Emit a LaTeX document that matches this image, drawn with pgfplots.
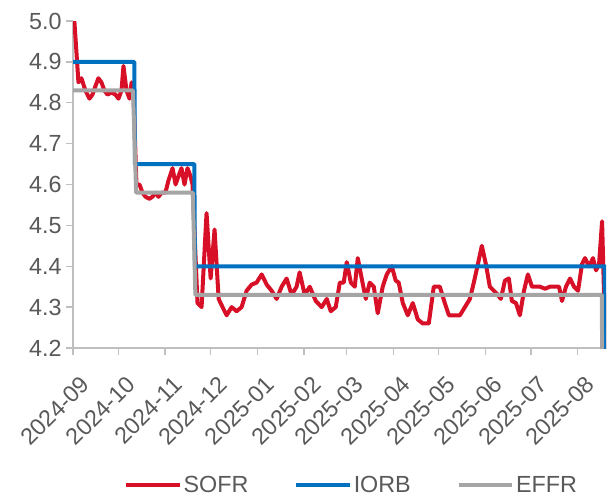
\documentclass[border=0pt]{standalone}
\usepackage{pgfplots}
\pgfplotsset{compat=1.18}
\usepackage{fontspec}
\setmainfont{Liberation Sans}
\definecolor{sofr}{RGB}{215,16,40}
\definecolor{iorb}{RGB}{0,112,192}
\definecolor{effr}{RGB}{165,165,165}
\definecolor{axgray}{RGB}{191,191,191}
\definecolor{txt}{RGB}{89,89,89}
\begin{document}
\begin{tikzpicture}
\path[use as bounding box] (0,0) rectangle (456pt,372.75pt);
\begin{axis}[
  at={(54.75pt,111.75pt)}, anchor=south west,
  scale only axis, width=399.75pt, height=245.25pt,
  xmin=0, xmax=352.8, ymin=4.2, ymax=5.0,
  axis x line*=bottom, axis y line*=left,
  axis line style={axgray, line width=1.1pt, -},
  xtick={0,30,61,91,122,153,181,212,242,273,303,334},
  xticklabels={2024-09,2024-10,2024-11,2024-12,2025-01,2025-02,2025-03,2025-04,2025-05,2025-06,2025-07,2025-08},
  ytick={4.2,4.3,4.4,4.5,4.6,4.7,4.8,4.9,5.0},
  yticklabel style={/pgf/number format/.cd, fixed, fixed zerofill, precision=1},
  /pgf/number format/assume math mode=true,
  tick align=outside, major tick length=5pt,
  tick style={axgray, line width=1.1pt},
  every tick label/.append style={font=\fontsize{17.5}{21}\selectfont, text=txt},
  xticklabel style={xshift=5pt, yshift=-12pt, rotate=45, anchor=north east, inner sep=2pt},
  legend style={at={(0.0957,-0.419)}, anchor=west, draw=none, fill=none, inner sep=0pt,
    font=\fontsize{17.5}{21}\selectfont, text=txt,
    nodes={inner sep=1.5pt},
    /tikz/every even column/.append style={column sep=33pt}},
  legend columns=3,
  legend image code/.code={\draw[#1, line width=3pt] (0pt,0pt) -- (40pt,0pt);},
  clip=true,
]
\addplot[sofr, line width=3pt, line join=round] coordinates {
(0,5.05) (3.6,4.85) (5.6,4.86) (8.2,4.83) (10.9,4.81) (12.9,4.82) (14.8,4.84) (16.8,4.86)
(18.8,4.85) (20.8,4.83) (22.8,4.82) (25.4,4.825) (28.1,4.82) (30.1,4.81) (32.1,4.83) (33.4,4.89)
(35.4,4.83) (37.4,4.81) (38.8,4.85) (40.0,4.83)
(42.0,4.60) (44.0,4.60) (46.0,4.58) (48.0,4.57) (50.6,4.565) (52.6,4.57) (54.6,4.58) (56.6,4.57)
(58.6,4.58) (61.2,4.58) (63.2,4.61) (65.9,4.64) (67.9,4.60) (69.8,4.62) (71.8,4.64) (73.8,4.60)
(75.8,4.64) (77.8,4.62) (79.1,4.60)
(82.4,4.31) (85.1,4.30) (88.4,4.53) (91.1,4.37) (93.7,4.49) (96.4,4.32) (99.0,4.30) (101.7,4.28)
(105.0,4.30) (108.3,4.29) (111.6,4.30) (114.9,4.34) (118.2,4.355) (121.5,4.36) (124.9,4.38)
(128.2,4.355) (131.5,4.34) (134.8,4.32) (138.1,4.35) (141.4,4.37) (144.7,4.33) (148.0,4.35)
(150.0,4.385) (153.4,4.33) (156.7,4.35) (160.7,4.315) (164.6,4.30) (168.0,4.32) (170.6,4.29)
(173.9,4.30) (176.6,4.36) (179.2,4.36) (181.2,4.41) (183.9,4.36) (186.5,4.35) (188.5,4.42)
(191.1,4.37) (193.8,4.32) (196.4,4.36) (199.1,4.35) (201.7,4.285) (205.0,4.35) (207.7,4.38)
(211.0,4.40) (213.6,4.365) (215.6,4.36) (218.3,4.31) (221.6,4.28) (224.9,4.31) (228.2,4.27)
(231.5,4.26) (235.5,4.26) (238.8,4.35) (242.8,4.35) (246.1,4.31) (248.8,4.28) (252.7,4.28)
(256.1,4.28) (259.4,4.30) (262.7,4.32) (265.3,4.36) (268.0,4.405) (270.6,4.45) (273.3,4.405)
(275.9,4.35) (278.6,4.34) (281.2,4.33) (283.2,4.32) (285.9,4.365) (288.5,4.37) (290.5,4.315)
(293.2,4.31) (295.8,4.28) (298.5,4.34) (301.1,4.38) (303.8,4.35) (306.4,4.35) (309.1,4.35)
(312.4,4.345) (315.7,4.35) (319.0,4.35) (321.7,4.35) (323.7,4.315) (326.3,4.35) (329.0,4.37)
(331.6,4.35) (334.3,4.34) (336.9,4.405) (338.9,4.42) (341.6,4.40) (344.2,4.42) (346.2,4.39)
(348.2,4.405) (350.2,4.51) (351.5,4.33) (352.2,4.10)
};
\addlegendentry{SOFR}
\addplot[iorb, line width=3pt, line join=round] coordinates {
(0,4.90) (40.6,4.90) (41.0,4.65) (80.3,4.65) (80.7,4.40) (351.9,4.40) (352.3,4.10)
};
\addlegendentry{IORB}
\addplot[effr, line width=3pt, line join=round] coordinates {
(0,4.83) (39.7,4.83) (41.8,4.58) (79.3,4.58) (81.0,4.33) (350.0,4.33) (350.4,4.10)
};
\addlegendentry{EFFR}
\end{axis}
\end{tikzpicture}
\end{document}
